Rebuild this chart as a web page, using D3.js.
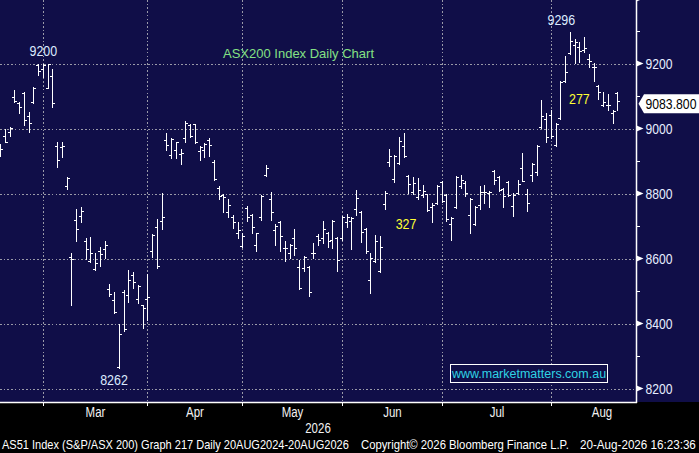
<!DOCTYPE html>
<html><head><meta charset="utf-8">
<script src="https://cdn.jsdelivr.net/npm/d3@7"></script>
<style>
html,body{margin:0;padding:0;background:#000;}
svg{display:block;}
</style></head><body>
<svg id="c" width="699" height="453"></svg>
<script>
// ---- data ----
const opens  = [8929,8978,8988,9098,9077,9108,9037,9080,9194,9182,9126,9163,8945,8942,8822,8606,8720,8732,8655,8591,8569,8622,8628,8505,8471,8265,8498,8489,8548,8474,8456,8474,8622,8698,8714,8966,8917,8935,8923,8972,9012,9014,8932,8935,8966,8898,8818,8794,8742,8729,8680,8637,8754,8735,8643,8729,8858,8782,8689,8711,8631,8618,8662,8575,8572,8575,8618,8668,8662,8680,8658,8662,8662,8711,8714,8751,8742,8692,8535,8591,8563,8769,8898,8846,8895,8945,8855,8806,8788,8794,8797,8760,8772,8834,8794,8705,8760,8822,8831,8735,8705,8766,8806,8803,8868,8852,8815,8834,8763,8803,8880,8797,8858,8865,9006,9028,9043,8948,9031,9145,9231,9258,9252,9243,9215,9188,9132,9071,9071,9049,9108];
const highs  = [8951,8997,9006,9117,9080,9111,9052,9129,9197,9197,9200,9182,8957,8960,8852,8618,8751,8760,8662,8665,8618,8634,8655,8523,8498,8397,8502,8566,8560,8517,8458,8551,8674,8723,8803,8985,8972,8960,8938,9022,9015,9015,8945,8954,8972,8902,8822,8797,8782,8735,8711,8680,8763,8738,8680,8794,8889,8806,8705,8714,8655,8646,8692,8594,8609,8578,8649,8674,8714,8683,8717,8665,8732,8738,8729,8812,8745,8695,8618,8671,8668,8809,8938,8917,8975,8985,8858,8852,8849,8825,8800,8772,8825,8837,8797,8729,8855,8858,8840,8785,8763,8822,8825,8809,8871,8855,8818,8837,8803,8843,8926,8815,8895,8948,9089,9049,9058,9018,9145,9222,9296,9274,9265,9283,9228,9203,9135,9111,9105,9058,9111];
const lows   = [8914,8957,8978,9080,9049,9012,8988,9077,9166,9160,9126,9065,8883,8911,8815,8458,8655,8711,8597,8588,8566,8578,8603,8486,8431,8262,8378,8465,8508,8462,8385,8412,8606,8572,8692,8935,8908,8908,8892,8957,8975,8954,8902,8911,8914,8843,8782,8742,8729,8695,8662,8634,8714,8680,8622,8717,8855,8717,8643,8622,8591,8603,8612,8505,8563,8486,8603,8643,8649,8634,8631,8563,8658,8698,8628,8735,8652,8618,8495,8588,8557,8751,8886,8834,8892,8911,8803,8797,8782,8788,8745,8711,8769,8775,8714,8658,8754,8818,8791,8680,8702,8751,8772,8760,8828,8809,8760,8791,8732,8797,8837,8745,8837,8858,9003,8957,8972,8945,9028,9142,9228,9203,9206,9234,9188,9145,9092,9068,9058,9018,9058];
const closes = [8938,8960,9003,9086,9065,9025,9018,9126,9178,9194,9197,9077,8902,8945,8849,8600,8692,8745,8628,8618,8585,8615,8643,8492,8434,8369,8382,8535,8529,8514,8449,8483,8671,8578,8729,8948,8969,8957,8926,9018,8978,8957,8942,8951,8948,8846,8791,8788,8766,8711,8689,8668,8729,8698,8677,8791,8877,8742,8701,8668,8631,8643,8631,8508,8606,8498,8618,8658,8692,8655,8714,8594,8729,8729,8726,8785,8683,8622,8603,8655,8634,8803,8914,8914,8963,8914,8828,8831,8812,8809,8748,8766,8822,8778,8723,8726,8852,8843,8803,8782,8760,8806,8806,8806,8843,8812,8791,8794,8794,8828,8840,8772,8892,8945,9037,8975,8978,9015,9142,9175,9268,9265,9237,9249,9209,9188,9111,9083,9071,9055,9083.8];

const monthLabels = ["Mar","Apr","May","Jun","Jul","Aug"];
const monthStarts = [9,31,51,72,93,116];   // bar index of first trading day
const yMajor = [8200,8400,8600,8800,9000,9200,9400];
const yMinor = [8300,8500,8700,8900,9100,9300];
const lastPrice = 9083.8;
const yearLabel = "2026";
const titleText = "ASX200 Index Daily Chart";
const watermark = "www.marketmatters.com.au";
const footerParts = ["AS51 Index (S&P/ASX 200) Graph 217 Daily 20AUG2024-20AUG2026",
                     "Copyright\u00A9 2026 Bloomberg Finance L.P.",
                     "20-Aug-2026 16:23:36"];
// annotations anchored in data space: [text, bar index, value, colour]
const annotations = [
  ["9200", 9.1, 9222, "#dcebff"],
  ["8262", 24, 8210, "#dcebff"],
  ["9296", 118.2, 9320, "#dcebff"],
  ["327", 85.5, 8691, "#ffff33"],
  ["277", 122, 9075, "#ffff33"]
];

// ---- layout ----
const W = 699, H = 453, plotR = 636, plotB = 402;
const NAVY = "#100e48";
const FONT = "'Liberation Sans',Arial,sans-serif";

const svg = d3.select("#c");
const x = d3.scaleLinear().domain([0, opens.length - 1]).range([0.1, 0.1 + (opens.length - 1) * 4.748]);
const y = d3.scaleLinear().domain([8200, 9000]).range([388.5, 128.5]);
const px = i => Math.round(x(i)) + 0.5;
const py = v => Math.round(y(v)) + 0.5;

// narrow text: horizontally compressed Liberation Sans
function narrow(g, tx, ty, txt, size, sx, fill, anchor) {
  const t = g.append("text").attr("transform", `translate(${tx},${ty}) scale(${sx},1)`)
    .attr("font-family", FONT).attr("font-size", size).attr("fill", fill)
    .attr("text-anchor", anchor || "start").text(txt);
  return t;
}
function fitText(g, tx, ty, txt, size, width, fill) {
  const t = g.append("text").attr("font-family", FONT).attr("font-size", size)
    .attr("fill", fill).text(txt);
  const w = t.node().getComputedTextLength();
  t.attr("transform", `translate(${tx},${ty}) scale(${width / w},1)`);
  return t;
}

svg.append("rect").attr("width", W).attr("height", H).attr("fill", "#000");
svg.append("rect").attr("width", W).attr("height", plotB).attr("fill", NAVY);

// grid
const grid = svg.append("g").attr("stroke", "#9a9aa8").attr("stroke-width", 1.5)
  .attr("stroke-dasharray", "1.6,2.1").attr("shape-rendering", "crispEdges");
grid.selectAll("line.h").data(yMajor.filter(v => v < 9400)).join("line").attr("class","h")
  .attr("x1", 0).attr("x2", plotR).attr("y1", d => py(d)).attr("y2", d => py(d));
grid.selectAll("line.v").data(monthStarts).join("line").attr("class","v")
  .attr("y1", 0).attr("y2", plotB).attr("x1", d => px(d)).attr("x2", d => px(d));

// bars
const bars = svg.append("g").attr("stroke", "#fff").attr("stroke-width", 1)
  .attr("fill", "none").attr("shape-rendering", "crispEdges");
bars.selectAll("path").data(d3.range(opens.length)).join("path")
  .attr("d", i => {
    const cx = px(i);
    const yh = Math.round(y(highs[i])), yl = Math.round(y(lows[i]));
    const yo = py(opens[i]), yc = py(closes[i]);
    return `M${cx},${yh}V${yl + 1}M${cx - 2.5},${yo}H${cx}M${cx},${yc}H${cx + 2.5}`;
  });

// axes lines
svg.append("line").attr("x1", plotR + 0.5).attr("x2", plotR + 0.5).attr("y1", 0).attr("y2", plotB + 1)
  .attr("stroke", "#fff").attr("stroke-width", 1.5);
svg.append("line").attr("x1", 0).attr("x2", plotR + 1).attr("y1", plotB + 0.5).attr("y2", plotB + 0.5)
  .attr("stroke", "#fff").attr("stroke-width", 1.5);

// x ticks + labels
svg.append("g").selectAll("line").data(monthStarts).join("line")
  .attr("x1", d => px(d)).attr("x2", d => px(d)).attr("y1", plotB).attr("y2", plotB + 4)
  .attr("stroke", "#fff").attr("stroke-width", 1);
const xl = svg.append("g");
monthLabels.forEach((m, i) => {
  const cx = i < monthStarts.length - 1 ? (px(monthStarts[i]) + px(monthStarts[i + 1])) / 2 : px(monthStarts[i]) + 50.5;
  narrow(xl, cx, 416.5, m, 14, 0.82, "#f2f2f2", "middle");
});
narrow(xl, plotR / 2, 433, yearLabel, 14, 0.82, "#f2f2f2", "middle");

// y axis ticks: triangles + labels, minor ticks
const yax = svg.append("g");
yax.selectAll("path").data(yMajor).join("path")
  .attr("d", d => `M${plotR},${y(d) - 3.2}L${plotR + 7.5},${y(d)}L${plotR},${y(d) + 3.2}Z`)
  .attr("fill", "#fff");
yax.selectAll("line").data(yMinor).join("line")
  .attr("x1", plotR).attr("x2", plotR + 4).attr("y1", d => py(d)).attr("y2", d => py(d))
  .attr("stroke", "#fff").attr("stroke-width", 1).attr("shape-rendering", "crispEdges");
yMajor.filter(v => v < 9400).forEach(v => narrow(yax, plotR + 9.5, y(v) + 5.2, String(v), 13.8, 0.88, "#e8eeff"));

// last price box
const lp = y(lastPrice) + 2.5;
svg.append("path").attr("d", `M${plotR + 2.5},${lp}L${plotR + 8},${lp - 9.5}H${W}V${lp + 9.5}H${plotR + 8}Z`)
  .attr("fill", "#fff");
fitText(svg, plotR + 9.5, lp + 5, lastPrice.toFixed(3), 14, 51, "#000");

// annotations
const an = svg.append("g");
annotations.forEach(a => narrow(an, x(a[1]), y(a[2]), a[0], 14.5, 0.86, a[3], "middle"));

// title
svg.append("text").attr("x", 223).attr("y", 58.3).attr("fill", "#84e184")
  .attr("font-family", FONT).attr("font-size", 13).text(titleText);

// watermark box
svg.append("rect").attr("x", 450.5).attr("y", 364.5).attr("width", 157).attr("height", 18)
  .attr("fill", NAVY).attr("stroke", "#fff").attr("stroke-width", 1);
svg.append("text").attr("x", 529).attr("y", 377.8).attr("text-anchor", "middle").attr("fill", "#2fd3e3")
  .attr("font-family", FONT).attr("font-size", 12.5).text(watermark);

// footer
const fx = [[2, 347], [361, 208], [580, 116]];
const ft = svg.append("g");
footerParts.forEach((t, i) => fitText(ft, fx[i][0], 449.3, t, 13, fx[i][1], "#fff"));
</script>
</body></html>
